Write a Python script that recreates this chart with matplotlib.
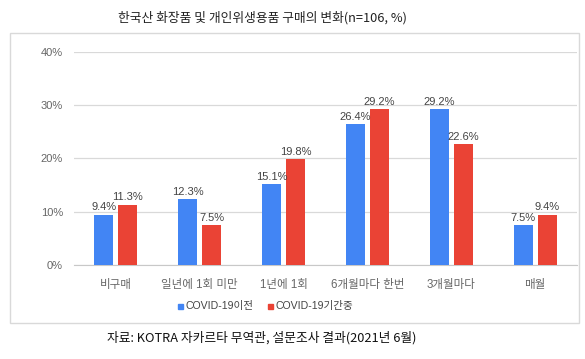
import matplotlib
matplotlib.use("Agg")
import matplotlib.pyplot as plt
import numpy as np
from matplotlib.patches import Rectangle

categories = ["비구매", "일년에 1회 미만", "1년에 1회", "6개월마다 한번", "3개월마다", "매월"]
before = [9.4, 12.3, 15.1, 26.4, 29.2, 7.5]
during = [11.3, 7.5, 19.8, 29.2, 22.6, 9.4]
series_names = ["COVID-19이전", "COVID-19기간중"]
yticks = [0, 10, 20, 30, 40]
title = "한국산 화장품 및 개인위생용품 구매의 변화(n=106, %)"
source = "자료: KOTRA 자카르타 무역관, 설문조사 결과(2021년 6월)"

BLUE = "#4285F4"
RED = "#EA4335"
MIX = ["Liberation Sans", "Noto Sans CJK KR"]
KR = ["Noto Sans CJK KR", "DejaVu Sans"]

W, H = 585, 359
fig = plt.figure(figsize=(W / 100, H / 100), dpi=100)

def fx(px):
    return px / W

def fy(py):
    return 1 - py / H

# outer border
fig.patches.append(Rectangle((fx(10), fy(322.5)), fx(568.5), (322.5 - 32.5) / H,
                             transform=fig.transFigure, fill=False,
                             edgecolor="#d9d9d9", linewidth=1.0))

ax = fig.add_axes([fx(74), fy(265), fx(577 - 74), (265 - 51.5) / H])
x = np.arange(len(categories))
bw = 0.226
off = 0.143
b1 = ax.bar(x - off, before, bw, color=BLUE, label=series_names[0], zorder=3)
b2 = ax.bar(x + off, during, bw, color=RED, label=series_names[1], zorder=3)

for rects, vals in ((b1, before), (b2, during)):
    for r, v in zip(rects, vals):
        ax.text(r.get_x() + r.get_width() / 2, v + 0.45, f"{v:.1f}%",
                ha="center", va="bottom", fontsize=8, color="#444444",
                family=MIX, zorder=4)

ax.set_xlim(-0.5, len(categories) - 0.5)
ax.set_ylim(0, 40)
ax.set_yticks(yticks)
ax.set_yticklabels([f"{t}%" for t in yticks], family=MIX, fontsize=8, color="#666666")
ax.set_xticks(x)
ax.set_xticklabels(categories, family=MIX, fontsize=8.3, color="#666666")
ax.tick_params(axis="x", length=0, pad=10)
ax.tick_params(axis="y", length=0, pad=8)
ax.yaxis.grid(True, color="#d9d9d9", linewidth=0.9, zorder=0)
for s in ax.spines.values():
    s.set_visible(False)
ax.spines["bottom"].set_visible(True)
ax.spines["bottom"].set_color("#c8c8c8")

# legend
fig.patches.append(Rectangle((fx(178), fy(308.5)), fx(5), 5 / H, transform=fig.transFigure,
                             color=BLUE))
fig.text(fx(185), fy(306), series_names[0], family=MIX, fontsize=7.6, color="#444444",
         va="center", ha="left")
fig.patches.append(Rectangle((fx(268), fy(308.5)), fx(5), 5 / H, transform=fig.transFigure,
                             color=RED))
fig.text(fx(275), fy(306), series_names[1], family=MIX, fontsize=7.6, color="#444444",
         va="center", ha="left")

fig.text(fx(262), fy(18), title, family=KR, fontsize=9.2, color="#222222",
         ha="center", va="center")
fig.text(fx(262), fy(338), source, family=KR, fontsize=9.2, color="#111111",
         ha="center", va="center")

fig.savefig("out.png", dpi=100, facecolor="white")
